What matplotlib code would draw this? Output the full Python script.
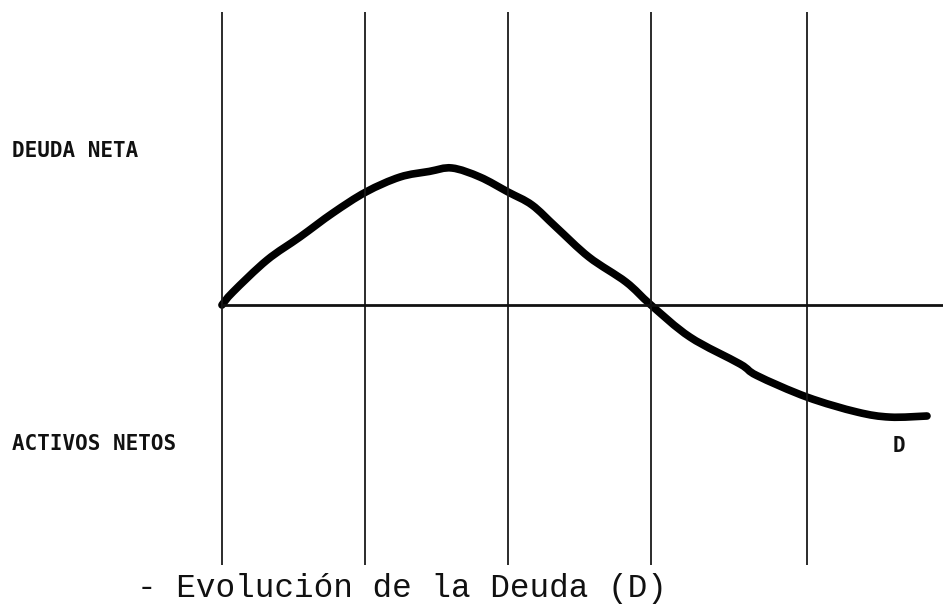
import matplotlib.pyplot as plt
from matplotlib.path import Path
from matplotlib.patches import PathPatch
import numpy as np

# periodos (lineas verticales) y curva de la deuda
periodos = [0, 1, 2, 3, 4.09]
t = [0, 0.077, 0.315, 0.545, 0.776, 1.007, 1.245, 1.45, 1.608, 1.804, 2.0,
     2.168, 2.336, 2.566, 2.825, 3.0, 3.273, 3.622, 3.741, 4.091, 4.441,
     4.671, 4.93]
deuda = [0, 0.095, 0.328, 0.496, 0.672, 0.825, 0.934, 0.975, 1.0, 0.934,
         0.825, 0.73, 0.569, 0.35, 0.168, 0, -0.234, -0.43, -0.515,
         -0.672, -0.781, -0.818, -0.81]

fig = plt.figure(figsize=(9.43, 6.04), dpi=100)
ax = fig.add_axes([0, 0, 1, 1])
ax.set_xlim(-1.552, 5.042)
ax.set_ylim(-2.182, 2.226)
ax.axis('off')

# lineas verticales de cada periodo
ax.vlines(periodos, -1.90, 2.14, color='#1a1a1a', lw=1.3)
# eje horizontal
ax.hlines(0, 0, 5.042, color='#111111', lw=2.0)

# curva D: trazo suave (bezier tipo catmull-rom) por los puntos leidos
p = np.column_stack([t, deuda])
verts = [p[0]]
codes = [Path.MOVETO]
for i in range(len(p) - 1):
    p0 = p[i - 1] if i > 0 else p[i]
    p3 = p[i + 2] if i + 2 < len(p) else p[i + 1]
    c1 = p[i] + (p[i + 1] - p0) / 6
    c2 = p[i + 1] - (p3 - p[i]) / 6
    verts += [c1, c2, p[i + 1]]
    codes += [Path.CURVE4] * 3
ax.add_patch(PathPatch(Path(verts, codes), fill=False, edgecolor='black',
                       lw=5.5, capstyle='round', joinstyle='round'))

lab = dict(family='DejaVu Sans Mono', weight='bold', fontsize=15,
           va='baseline', color='#111111')
ax.text(-1.47, 1.080, 'DEUDA NETA', ha='left', **lab)
ax.text(-1.47, -1.058, 'ACTIVOS NETOS', ha='left', **lab)
ax.text(4.734, -1.07, 'D', ha='center', **lab)

ax.text(-0.594, -2.131, '- Evolución de la Deuda (D)',
        family='Liberation Mono', fontsize=23.5, va='baseline', ha='left',
        color='#111111')

fig.savefig('out.png', dpi=100)
